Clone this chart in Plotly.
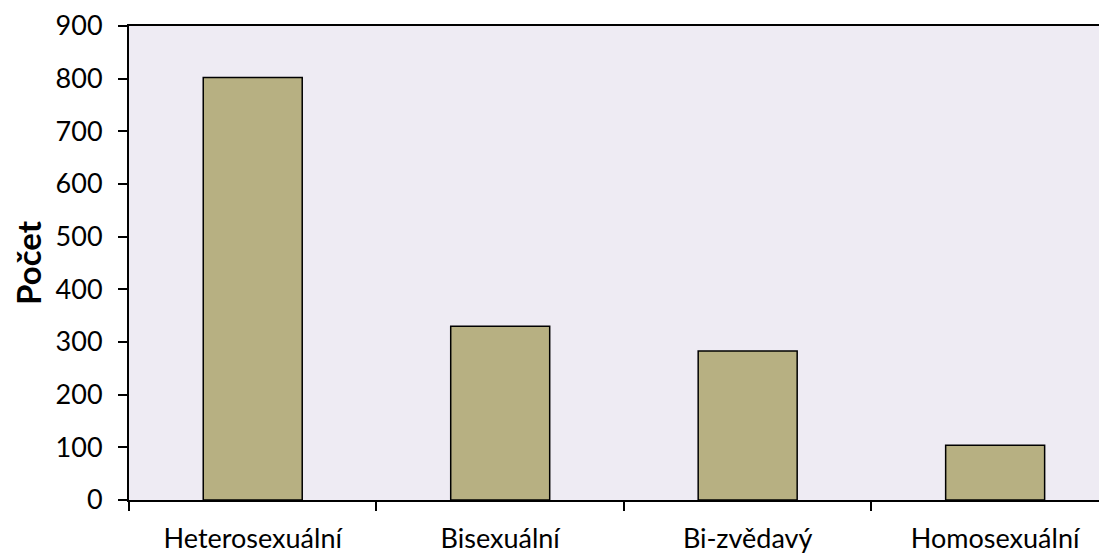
import plotly.graph_objects as go

categories = ["Heterosexuální", "Bisexuální", "Bi-zvědavý", "Homosexuální"]
counts = [802, 330, 283, 104]
y_tickvals = [0, 100, 200, 300, 400, 500, 600, 700, 800, 900]

FONT = "Lato"

fig = go.Figure(
    go.Bar(
        x=categories,
        y=counts,
        marker=dict(color="#B7B082", line=dict(color="black", width=1.5)),
        width=0.4,
    )
)

# page body has an 8px default margin, so the figure is shrunk/shifted to compensate
fig.update_layout(
    width=1099,
    height=546,
    margin=dict(l=121, r=0, t=18, b=52),
    paper_bgcolor="white",
    plot_bgcolor="#EEEBF3",
    showlegend=False,
    font=dict(family=FONT, size=27, color="black"),
)

fig.update_xaxes(
    type="category",
    range=[-0.5, 3.452],
    showline=True,
    linecolor="black",
    linewidth=2,
    mirror=True,
    ticks="outside",
    ticklen=9,
    tickwidth=1.5,
    tickcolor="black",
    tickson="boundaries",
    showgrid=False,
    zeroline=False,
    tickfont=dict(family=FONT, size=27),
    ticklabelstandoff=14,
)

fig.update_yaxes(
    range=[0, 900],
    tickvals=y_tickvals,
    showline=True,
    linecolor="black",
    linewidth=2,
    ticks="outside",
    ticklen=9,
    tickwidth=1.5,
    tickcolor="black",
    showgrid=False,
    zeroline=False,
    tickfont=dict(family=FONT, size=27),
    ticklabelstandoff=10,
    title=dict(text="<b>Počet</b>", font=dict(family=FONT, size=33), standoff=12),
)

fig.write_html("out.html")
